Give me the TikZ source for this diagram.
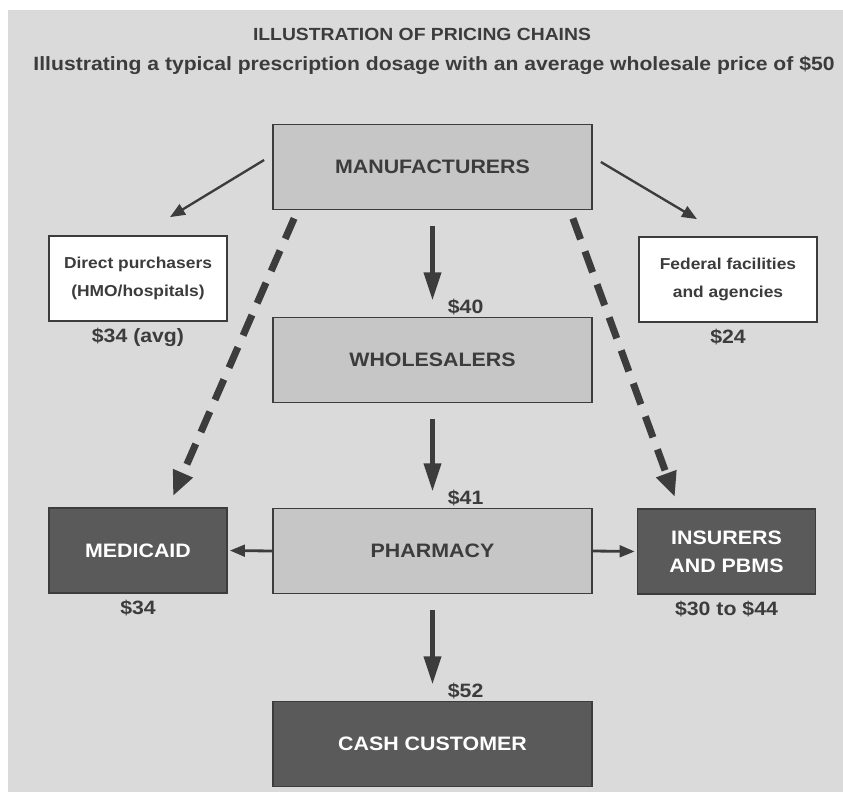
\documentclass[tikz,border=0pt]{standalone}
\usepackage{fontspec}
\setmainfont{Liberation Sans}
\newfontfamily\widefont[FakeStretch=1.1]{Liberation Sans}
\usetikzlibrary{arrows.meta, positioning}
\definecolor{pagegray}{HTML}{DADADA}
\definecolor{boxgray}{HTML}{C6C6C6}
\definecolor{boxdark}{HTML}{5A5A5A}
\definecolor{inkdark}{HTML}{3C3C3C}

\tikzset{
  chainbox/.style={draw=inkdark, line width=1.5pt, align=center, text=inkdark,
    minimum width=9.57cm, minimum height=2.55cm,
    font=\widefont\bfseries\fontsize{16.6}{24}\selectfont},
  midbox/.style={chainbox, fill=boxgray},
  darkbox/.style={chainbox, fill=boxdark, text=white, minimum width=5.34cm},
  sidebox/.style={chainbox, fill=white, minimum width=5.34cm,
    font=\widefont\bfseries\fontsize{13.5}{24}\selectfont},
  price/.style={text=inkdark, inner sep=1pt, font=\widefont\bfseries\fontsize{16.5}{16.5}\selectfont},
  bigarrow/.style={draw=inkdark, line width=4.2pt, -{Triangle[length=0.85cm, width=0.5cm]},
    shorten <=0.48cm, shorten >=0.48cm},
  thinarrow/.style={draw=inkdark, line width=2pt, -{Triangle[length=0.45cm, width=0.36cm]}},
  dasharrow/.style={draw=inkdark, line width=6pt, dash pattern=on 19pt off 11pt,
    -{Triangle[length=0.75cm, width=0.6cm]}},
  sidearrow/.style={draw=inkdark, line width=2.4pt, -{Triangle[length=0.45cm, width=0.35cm]},
    shorten >=0.06cm}
}

\begin{document}
\begin{tikzpicture}[x=0.03cm, y=-0.03cm]
  % Page background
  \useasboundingbox (0,0) rectangle (843,792);
  \fill[pagegray] (8,10) rectangle (843,792);

  % Headings
  \node[text=inkdark, font=\widefont\bfseries\fontsize{15}{15}\selectfont] (title) at (422,34) {ILLUSTRATION OF PRICING CHAINS};
  \node[text=inkdark, font=\widefont\bfseries\fontsize{16.4}{16.4}\selectfont] (subtitle) at (434,65) {Illustrating a typical prescription dosage with an average wholesale price of \$50};

  % Main chain (centre column)
  \node[midbox] (manu) at (432.5,167) {MANUFACTURERS};
  \node[midbox] (whole) at (432.5,360) {WHOLESALERS};
  \node[midbox] (pharm) at (432.5,551) {PHARMACY};
  \node[darkbox, minimum width=9.57cm] (cash) at (432.5,744) {CASH CUSTOMER};

  % Side buyers
  \node[sidebox] (direct) at (138,278.5) {Direct purchasers\\(HMO/hospitals)};
  \node[sidebox] (federal) at (728,279.5) {Federal facilities\\and agencies};
  \node[darkbox] (medicaid) at (138,550.5) {MEDICAID};
  \node[darkbox] (insurers) at (726.5,551.5) {INSURERS\\AND PBMS};

  % Prices under the side boxes
  \node[price, below=4pt of direct] (pdirect) {\$34 (avg)};
  \node[price, below=4pt of federal] (pfederal) {\$24};
  \node[price, below=4pt of medicaid] (pmedicaid) {\$34};
  \node[price, below=4pt of insurers] (pinsurers) {\$30 to \$44};

  % Prices along the chain
  \node[price, above right=0pt and 0.42cm of whole.north] (pwhole) {\$40};
  \node[price, above right=0pt and 0.42cm of pharm.north] (ppharm) {\$41};
  \node[price, above right=0pt and 0.42cm of cash.north] (pcash) {\$52};

  % Downward flow
  \draw[bigarrow] (manu) -- (whole);
  \draw[bigarrow] (whole) -- (pharm);
  \draw[bigarrow] (pharm) -- (cash);

  % Direct sales
  \draw[thinarrow] ([xshift=-0.24cm, yshift=0.21cm]manu.west) -- ([xshift=0.96cm, yshift=0.54cm]direct.north);
  \draw[thinarrow] ([xshift=0.24cm, yshift=0.15cm]manu.east) -- ([xshift=-0.93cm, yshift=0.51cm]federal.north);

  % Rebates (dashed)
  \draw[dasharrow] ([xshift=0.66cm, yshift=-0.24cm]manu.south west) -- ([xshift=1.05cm, yshift=0.33cm]medicaid.north);
  \draw[dasharrow] ([xshift=-0.6cm, yshift=-0.24cm]manu.south east) -- ([xshift=-1.55cm, yshift=0.33cm]insurers.north);

  % Pharmacy reimbursement
  \draw[sidearrow] (pharm.west) -- (medicaid.east);
  \draw[sidearrow] (pharm.east) -- (insurers.west);
\end{tikzpicture}
\end{document}
